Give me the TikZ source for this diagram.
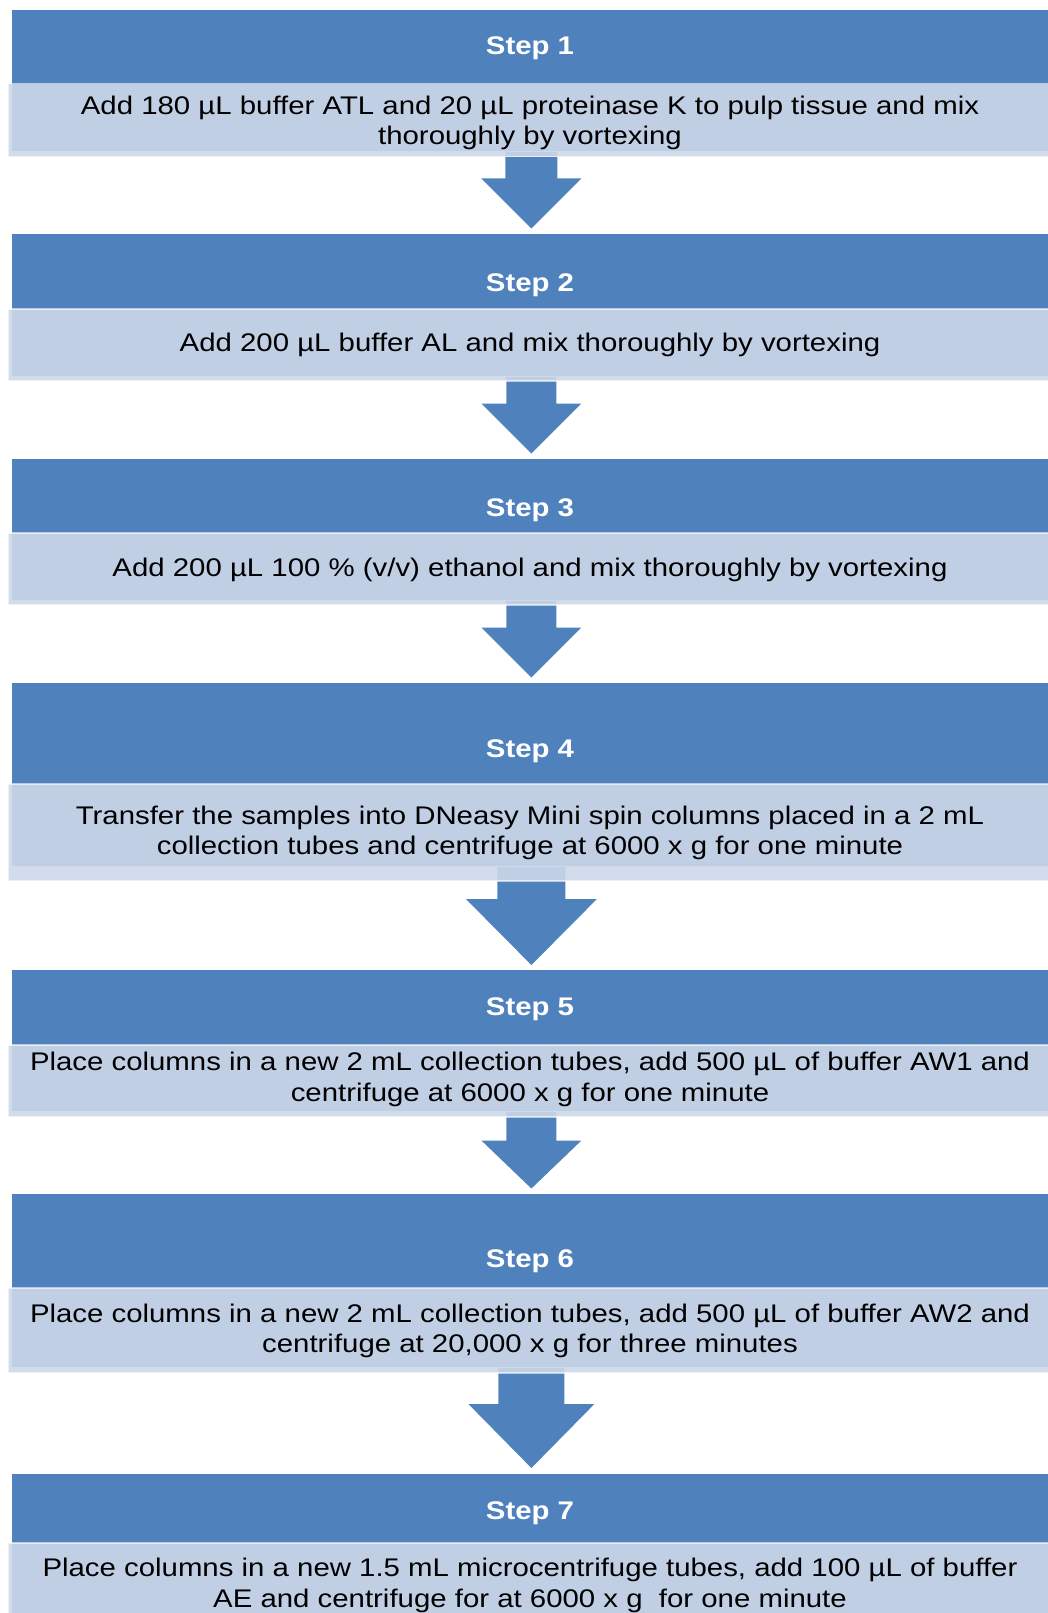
\documentclass[tikz,border=0pt]{standalone}
\usepackage{fontspec}
\setmainfont{Liberation Sans}[FakeStretch=1.152]
\usetikzlibrary{calc}
\definecolor{darkblue}{RGB}{79,129,189}
\definecolor{lightfill}{RGB}{206,216,234}
\newcommand\blockarrow[5]{%
  \fill[arrowfill] ($(#1)+(-#3,0)$) -- ($(#1)+(#3,0)$) -- ($(#2)+(#3,-#5)$) -- ($(#2)+(#4,-#5)$)
    -- (#2) -- ($(#2)+(-#4,-#5)$) -- ($(#2)+(-#3,-#5)$) -- cycle;}
\begin{document}
\begin{tikzpicture}[x=1pt,y=-1pt,
  band/.style={fill=darkblue, draw=white, line width=0.8pt, inner sep=0pt, anchor=north west, minimum width=1040pt},
  descbox/.style={fill=lightfill, fill opacity=0.9, draw=white, draw opacity=0.6, line width=1.5pt, inner sep=0pt, anchor=north west, minimum width=1060pt},
  title/.style={text=white, font=\bfseries\fontsize{25.5}{30.5}\selectfont, inner sep=0pt, align=center},
  body/.style={text=black, font=\fontsize{25.5}{30.5}\selectfont, inner sep=0pt, align=center},
  arrowfill/.style={fill=darkblue}]
\useasboundingbox (0,0) rectangle (1048,1613);
\clip (0,0) rectangle (1048,1613);
% dark bands
\node[band, minimum height=142pt] (d1) at (11,9) {};
\node[band, minimum height=143pt] (d2) at (11,233) {};
\node[band, minimum height=142pt] (d3) at (11,458) {};
\node[band, minimum height=184pt] (d4) at (11,682) {};
\node[band, minimum height=142pt] (d5) at (11,969) {};
\node[band, minimum height=174pt] (d6) at (11,1193) {};
\node[band, minimum height=170pt] (d7) at (11,1473) {};
% arrows
\coordinate (a1s) at (d1.south); \coordinate (a1e) at ($(d2.north)+(0,-4.5)$);
\coordinate (a2s) at (d2.south); \coordinate (a2e) at ($(d3.north)+(0,-4.5)$);
\coordinate (a3s) at (d3.south); \coordinate (a3e) at ($(d4.north)+(0,-4.5)$);
\coordinate (a4s) at (d4.south); \coordinate (a4e) at ($(d5.north)+(0,-4)$);
\coordinate (a5s) at (d5.south); \coordinate (a5e) at ($(d6.north)+(0,-4.5)$);
\coordinate (a6s) at (d6.south); \coordinate (a6e) at ($(d7.north)+(0,-5)$);
\blockarrow{a1s}{a1e}{26}{50}{50}
\blockarrow{a2s}{a2e}{25}{50}{50}
\blockarrow{a3s}{a3e}{25}{50}{50}
\blockarrow{a4s}{a4e}{34}{65.5}{66}
\blockarrow{a5s}{a5e}{25}{50}{48}
\blockarrow{a6s}{a6e}{33}{63}{64}
% light boxes
\node[descbox, minimum height=73pt] (l1) at (7,83) {};
\node[descbox, minimum height=72pt] (l2) at (7,308) {};
\node[descbox, minimum height=72pt] (l3) at (7,532) {};
\node[descbox, minimum height=97pt] (l4) at (7,783) {};
\node[descbox, minimum height=72pt] (l5) at (7,1044) {};
\node[descbox, minimum height=85pt] (l6) at (7,1287) {};
\node[descbox, minimum height=100pt] (l7) at (7,1542) {};
% texts
\node[title] (t1) at (530,48.9) {\strut Step 1};
\node[body] (x1) at (530,123.6) {\strut Add 180 µL buffer ATL and 20 µL proteinase K to pulp tissue and mix\\\strut thoroughly by vortexing};
\node[title] (t2) at (530,285.6) {\strut Step 2};
\node[body] (x2) at (530,345.6) {\strut Add 200 µL buffer AL and mix thoroughly by vortexing};
\node[title] (t3) at (530,510.6) {\strut Step 3};
\node[body] (x3) at (530,570.6) {\strut Add 200 µL 100 \% (v/v) ethanol and mix thoroughly by vortexing};
\node[title] (t4) at (530,750.9) {\strut Step 4};
\node[body] (x4) at (530,833.4) {\strut Transfer the samples into DNeasy Mini spin columns placed in a 2 mL\\\strut collection tubes and centrifuge at 6000 x g for one minute};
\node[title] (t5) at (530,1008.9) {\strut Step 5};
\node[body] (x5) at (530,1079.9) {\strut Place columns in a new 2 mL collection tubes, add 500 µL of buffer AW1 and\\\strut centrifuge at 6000 x g for one minute};
\node[title] (t6) at (530,1260.9) {\strut Step 6};
\node[body] (x6) at (530,1331.4) {\strut Place columns in a new 2 mL collection tubes, add 500 µL of buffer AW2 and\\\strut centrifuge at 20,000 x g for three minutes};
\node[title] (t7) at (530,1512.9) {\strut Step 7};
\node[body] (x7) at (530,1585.9) {\strut Place columns in a new 1.5 mL microcentrifuge tubes, add 100 µL of buffer\\\strut AE and centrifuge for at 6000 x g\ \ for one minute};
\end{tikzpicture}
\end{document}
